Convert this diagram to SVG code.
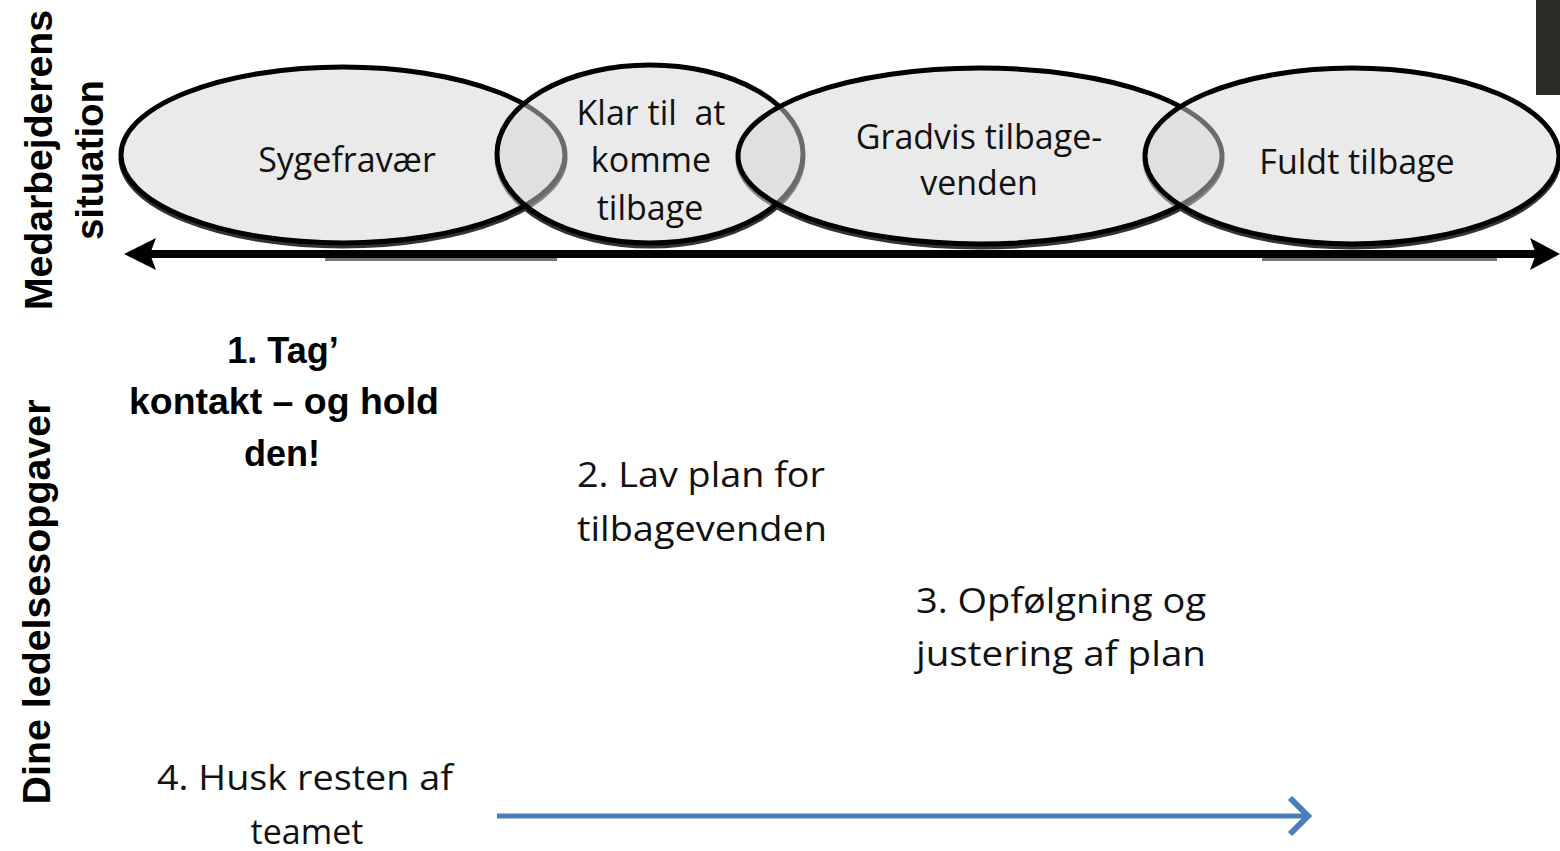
<svg xmlns="http://www.w3.org/2000/svg" width="1560" height="851" viewBox="0 0 1560 851">
<style>
.ph{fill:#d6d6d6;fill-opacity:0.5;stroke:#000;stroke-width:5}
.sh{fill:none;stroke:#333;stroke-width:5}
.t{font-family:"Open Sans","Liberation Sans",sans-serif;font-size:34px;fill:#111;text-anchor:middle;white-space:pre}
.b{font-family:"Liberation Sans","Open Sans",sans-serif;font-weight:bold;font-size:36px;fill:#000;text-anchor:middle}
.l{font-family:"Open Sans","Liberation Sans",sans-serif;font-size:34px;fill:#111}
.v{font-family:"Liberation Sans Narrow","Liberation Sans",sans-serif;font-weight:bold;font-size:38px;fill:#000;text-anchor:middle}
</style>
<rect width="1560" height="851" fill="#fff"/>
<rect x="1536" y="0" width="24" height="95" fill="#2a2b27"/>
<g id="shadows">
<path class="sh" d="M121,158 A222,88 0 0 0 565,158"/>
<path class="sh" d="M497,157 A153,89 0 0 0 803,157"/>
<path class="sh" d="M738,159 A242,88 0 0 0 1222,159"/>
<path class="sh" d="M1145,159 A207,88 0 0 0 1559,159"/>
</g>
<g id="connectors">
<line x1="325" y1="259" x2="557" y2="259" stroke="#777" stroke-width="4"/>
<line x1="1262" y1="259" x2="1497" y2="259" stroke="#777" stroke-width="4"/>
<line x1="140" y1="254" x2="1545" y2="254" stroke="#000" stroke-width="8"/>
<path d="M124,254 L156,238 L150,254 L156,270 z" fill="#000"/>
<path d="M1560,254 L1530,238 L1536,254 L1530,270 z" fill="#000"/>
<line x1="497" y1="816" x2="1306" y2="816" stroke="#4a7ebb" stroke-width="5"/>
<path d="M1290,798 L1308,816 L1290,834" fill="none" stroke="#4a7ebb" stroke-width="6"/>
</g>
<g id="n1">
<ellipse class="ph" cx="343" cy="155" rx="222" ry="88"/>
<text class="t" x="347" y="172">Sygefravær</text>
</g>
<g id="n2">
<ellipse class="ph" cx="650" cy="154" rx="153" ry="89"/>
<text class="t" x="651" y="125" xml:space="preserve">Klar til  at</text>
<text class="t" x="651" y="172">komme</text>
<text class="t" x="650" y="220">tilbage</text>
</g>
<g id="n3">
<ellipse class="ph" cx="980" cy="156" rx="242" ry="88"/>
<text class="t" x="979" y="149">Gradvis tilbage-</text>
<text class="t" x="979" y="195">venden</text>
</g>
<g id="n4">
<ellipse class="ph" cx="1352" cy="156" rx="207" ry="88"/>
<text class="t" x="1357" y="174">Fuldt tilbage</text>
</g>
<g id="labels">
<text class="v" transform="translate(52,160) rotate(-90)" textLength="300" lengthAdjust="spacingAndGlyphs">Medarbejderens</text>
<text class="v" transform="translate(103,160) rotate(-90)" textLength="160" lengthAdjust="spacingAndGlyphs">situation</text>
<text class="v" transform="translate(50,602) rotate(-90)" textLength="405" lengthAdjust="spacingAndGlyphs">Dine ledelsesopgaver</text>
</g>
<g id="task1">
<text class="b" x="283" y="363">1. Tag’</text>
<text class="b" x="284" y="414" textLength="310" lengthAdjust="spacingAndGlyphs">kontakt – og hold</text>
<text class="b" x="282" y="466">den!</text>
</g>
<g id="task2">
<text class="l" x="577" y="487" textLength="248" lengthAdjust="spacingAndGlyphs">2. Lav plan for</text>
<text class="l" x="577" y="541" textLength="250" lengthAdjust="spacingAndGlyphs">tilbagevenden</text>
</g>
<g id="task3">
<text class="l" x="916" y="613" textLength="290" lengthAdjust="spacingAndGlyphs">3. Opfølgning og</text>
<text class="l" x="916" y="666" textLength="290" lengthAdjust="spacingAndGlyphs">justering af plan</text>
</g>
<g id="task4">
<text class="l" x="305" y="790" text-anchor="middle" textLength="296" lengthAdjust="spacingAndGlyphs">4. Husk resten af</text>
<text class="l" x="307" y="844" text-anchor="middle">teamet</text>
</g>
</svg>
